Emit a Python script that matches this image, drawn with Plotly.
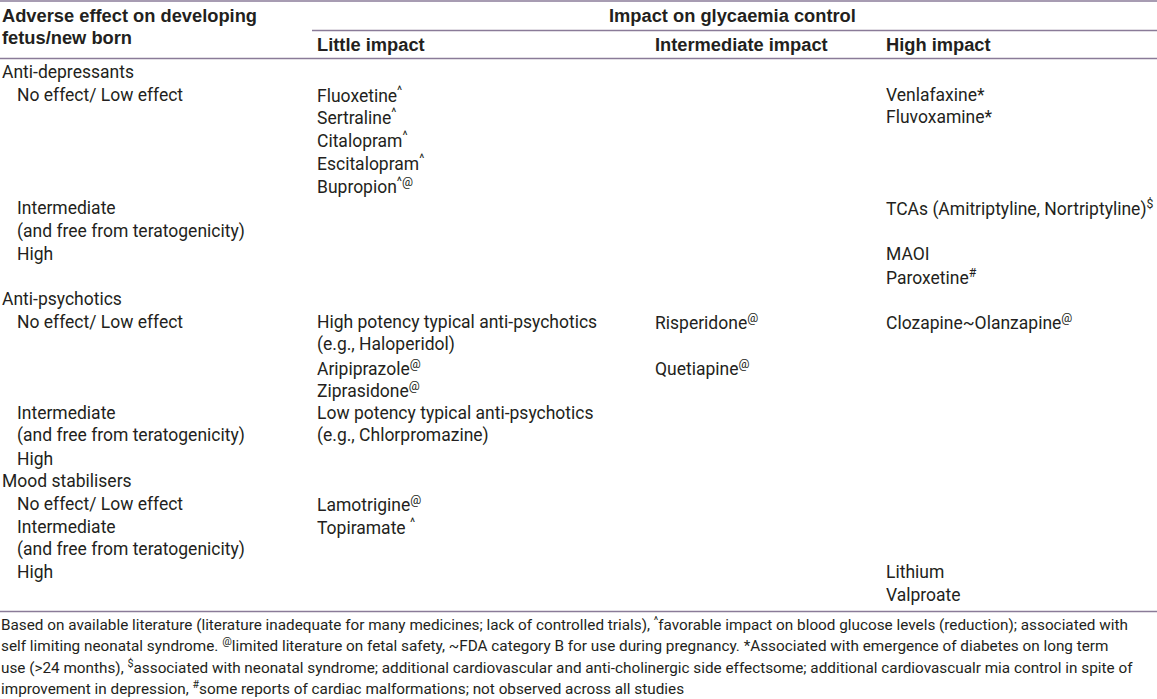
import plotly.graph_objects as go

# ---- data ----
header_left = ["Adverse effect on developing", "fetus/new born"]
header_span = "Impact on glycaemia control"
column_titles = ["Little impact", "Intermediate impact", "High impact"]

# one entry per table line (line index = position in list)
row_labels = [
    "Anti-depressants", "No effect/ Low effect", "", "", "", "",
    "Intermediate", "(and free from teratogenicity)", "High", "",
    "Anti-psychotics", "No effect/ Low effect", "", "", "",
    "Intermediate", "(and free from teratogenicity)", "High",
    "Mood stabilisers", "No effect/ Low effect",
    "Intermediate", "(and free from teratogenicity)", "High", "",
]
row_indent = [0, 1, 0, 0, 0, 0, 1, 1, 1, 0, 0, 1, 0, 0, 0, 1, 1, 1, 0, 1, 1, 1, 1, 0]
little_impact = [
    "", "Fluoxetine<sup>^</sup>", "Sertraline<sup>^</sup>", "Citalopram<sup>^</sup>",
    "Escitalopram<sup>^</sup>", "Bupropion<sup>^@</sup>", "", "", "", "",
    "", "High potency typical anti-psychotics", "(e.g., Haloperidol)",
    "Aripiprazole<sup>@</sup>", "Ziprasidone<sup>@</sup>",
    "Low potency typical anti-psychotics", "(e.g., Chlorpromazine)", "",
    "", "Lamotrigine<sup>@</sup>", "Topiramate <sup>^</sup>", "", "", "",
]
intermediate_impact = [
    "", "", "", "", "", "", "", "", "", "",
    "", "Risperidone<sup>@</sup>", "", "Quetiapine<sup>@</sup>", "",
    "", "", "", "", "", "", "", "", "",
]
high_impact = [
    "", "Venlafaxine*", "Fluvoxamine*", "", "", "",
    "TCAs (Amitriptyline, Nortriptyline)<sup>$</sup>", "", "MAOI", "Paroxetine<sup>#</sup>",
    "", "Clozapine~Olanzapine<sup>@</sup>", "", "", "",
    "", "", "", "", "", "", "", "Lithium", "Valproate",
]
footnotes = [
    "Based on available literature (literature inadequate for many medicines; lack of controlled trials), <sup>^</sup>favorable impact on blood glucose levels (reduction); associated with",
    "self limiting neonatal syndrome. <sup>@</sup>limited literature on fetal safety, ~FDA category B for use during pregnancy. *Associated with emergence of diabetes on long term",
    "use (&gt;24 months), <sup>$</sup>associated with neonatal syndrome; additional cardiovascular and anti-cholinergic side effectsome; additional cardiovascualr mia control in spite of",
    "improvement in depression, <sup>#</sup>some reports of cardiac malformations; not observed across all studies",
]

# ---- layout constants ----
W, H = 1157, 699
Y0, DY = 72.0, 22.74  # pixel centre of line 0 and line pitch


def yl(px):
    return (px - Y0) / DY


col_x = [1, 316, 654, 885]
indent_x = 16
TXT = "#231f20"
LINE = "#8a7b98"
body_font = dict(family="Roboto, Liberation Sans, sans-serif", size=17.5, color=TXT)
head_font = dict(family="Liberation Sans, Arial, sans-serif", size=18.3, color=TXT)
foot_font = dict(family="Roboto, Liberation Sans, sans-serif", size=15.3, color=TXT)

fig = go.Figure()
fig.add_trace(go.Scatter(x=[0, W], y=[yl(0), yl(H)], mode="markers",
                         marker=dict(opacity=0), hoverinfo="skip", showlegend=False))

ann = []


def add(x, y, text, font):
    ann.append(dict(x=x, y=y, xref="x", yref="y", text=text, showarrow=False,
                    xanchor="left", yanchor="middle", font=font, borderpad=0))


# header
add(col_x[0], yl(15.5), "<b>" + header_left[0] + "</b>", head_font)
add(col_x[0], yl(37.5), "<b>" + header_left[1] + "</b>", head_font)
add(608, yl(15), "<b>" + header_span + "</b>", head_font)
for cx, t in zip(col_x[1:], column_titles):
    add(cx, yl(44), "<b>" + t + "</b>", head_font)

# body
for i in range(len(row_labels)):
    if row_labels[i]:
        x = indent_x if row_indent[i] else col_x[0]
        add(x, i, row_labels[i], body_font)
    for cx, col in zip(col_x[1:], (little_impact, intermediate_impact, high_impact)):
        if col[i]:
            add(cx, i, col[i], body_font)

# footnotes
for k, t in enumerate(footnotes):
    add(0, yl(624 + k * 21.4), t, foot_font)

shapes = [
    dict(type="line", xref="x", yref="y", x0=0, x1=W, y0=yl(1), y1=yl(1), line=dict(color=LINE, width=1.3)),
    dict(type="line", xref="x", yref="y", x0=312, x1=W, y0=yl(30.5), y1=yl(30.5), line=dict(color=LINE, width=1.3)),
    dict(type="line", xref="x", yref="y", x0=0, x1=W, y0=yl(58.5), y1=yl(58.5), line=dict(color=LINE, width=1.3)),
    dict(type="line", xref="x", yref="y", x0=0, x1=W, y0=yl(611.5), y1=yl(611.5), line=dict(color=LINE, width=1.3)),
]

fig.update_layout(
    width=W, height=H, margin=dict(l=0, r=0, t=0, b=0),
    paper_bgcolor="white", plot_bgcolor="white",
    xaxis=dict(range=[0, W], visible=False, fixedrange=True),
    yaxis=dict(range=[yl(H), yl(0)], visible=False, fixedrange=True),
    annotations=ann, shapes=shapes, showlegend=False,
)
fig.write_html("out.html", config={"displayModeBar": False},
               post_script="document.body.style.margin='0';document.body.style.overflow='hidden';")
